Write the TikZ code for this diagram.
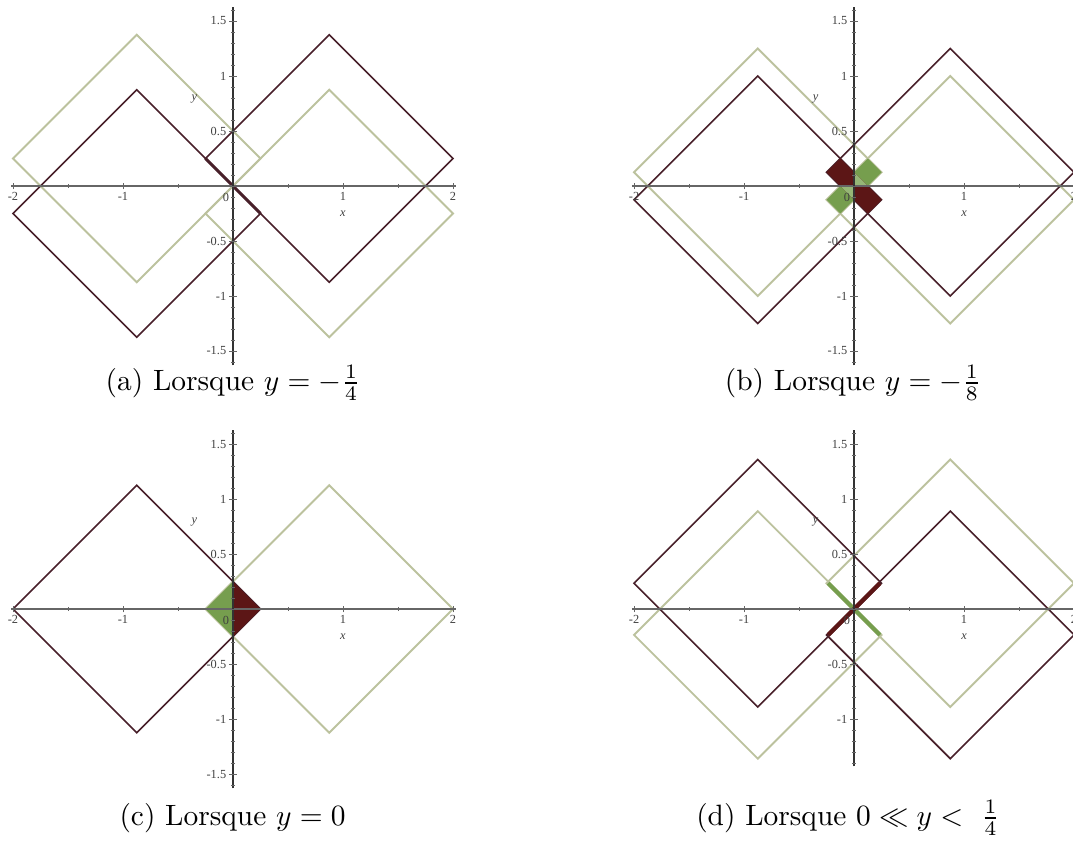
\documentclass[tikz,border=0pt]{standalone}
\usepackage{fontspec}
\newfontfamily\maplefont{Liberation Serif}
\usepackage{amsmath}
\usetikzlibrary{positioning}

\definecolor{lignesombre}{RGB}{72,32,42}
\definecolor{lignevert}{RGB}{188,194,158}
\definecolor{remplirrouge}{RGB}{92,22,22}
\definecolor{remplirvert}{RGB}{118,158,78}
\definecolor{vertmoyen}{RGB}{150,182,118}

\begin{document}
\begin{tikzpicture}[
    x=37.4pt, y=37.4pt,
    sombre/.style={draw=lignesombre, line width=0.55pt, line join=miter},
    vert/.style={draw=lignevert, line width=0.65pt, line join=miter},
    axe/.style={draw=black!60, line width=0.5pt},
    tick/.style={draw=black!60, line width=0.3pt},
    graduation/.style={font=\maplefont\fontsize{4.2}{5}\selectfont, inner sep=0.8pt, text=black!75},
    etiquette/.style={font=\maplefont\itshape\fontsize{4.2}{5}\selectfont, inner sep=0.5pt, text=black!75},
    legende/.style={font=\normalsize, inner sep=1pt}
]
\useasboundingbox (0,0) rectangle (9.7545,7.6818);

% (a) y = -1/4
\begin{scope}[shift={(2.118,5.991)}]
\foreach \cx/\cy in {-0.875/0.25, 0.875/-0.25}
  \draw[vert] (\cx,\cy) ++(-1.125,0) -- ++(1.125,1.125) -- ++(1.125,-1.125) -- ++(-1.125,-1.125) -- cycle;
\foreach \cx/\cy in {0.875/0.25, -0.875/-0.25}
  \draw[sombre] (\cx,\cy) ++(-1.125,0) -- ++(1.125,1.125) -- ++(1.125,-1.125) -- ++(-1.125,-1.125) -- cycle;
\draw[sombre, line width=1pt] (-0.25,0.25) -- (0.25,-0.25);
\end{scope}

% (b) y = -1/8
\begin{scope}[shift={(7.764,5.991)}]
\foreach \cx/\cy in {-0.875/0.125, 0.875/-0.125}
  \draw[vert] (\cx,\cy) ++(-1.125,0) -- ++(1.125,1.125) -- ++(1.125,-1.125) -- ++(-1.125,-1.125) -- cycle;
\foreach \cx/\cy in {0.875/0.125, -0.875/-0.125}
  \draw[sombre] (\cx,\cy) ++(-1.125,0) -- ++(1.125,1.125) -- ++(1.125,-1.125) -- ++(-1.125,-1.125) -- cycle;
\fill[remplirvert] (-0.25,-0.125) -- (-0.125,-0.25) -- (0.25,0.125) -- (0.125,0.25) -- cycle;
\fill[remplirrouge] (-0.25,0.125) -- (-0.125,0.25) -- (0.25,-0.125) -- (0.125,-0.25) -- cycle;
\fill[vertmoyen] (0,0) -- (0.125,0) -- (0,0.125) -- cycle;
\fill[vertmoyen] (0,0) -- (-0.125,0) -- (0,-0.125) -- cycle;
\end{scope}

% (c) y = 0
\begin{scope}[shift={(2.118,2.145)}]
\draw[vert] (-0.25,0) -- (0.875,1.125) -- (2,0) -- (0.875,-1.125) -- cycle;
\draw[sombre] (-2,0) -- (-0.875,1.125) -- (0.25,0) -- (-0.875,-1.125) -- cycle;
\fill[remplirvert] (0,0.25) -- (-0.25,0) -- (0,-0.25) -- cycle;
\fill[remplirrouge] (0,0.25) -- (0.25,0) -- (0,-0.25) -- cycle;
\end{scope}

% (d) 0 << y < 1/4
\begin{scope}[shift={(7.764,2.145)}]
\foreach \cx/\cy in {-0.875/-0.235, 0.875/0.235}
  \draw[vert] (\cx,\cy) ++(-1.125,0) -- ++(1.125,1.125) -- ++(1.125,-1.125) -- ++(-1.125,-1.125) -- cycle;
\foreach \cx/\cy in {-0.875/0.235, 0.875/-0.235}
  \draw[sombre] (\cx,\cy) ++(-1.125,0) -- ++(1.125,1.125) -- ++(1.125,-1.125) -- ++(-1.125,-1.125) -- cycle;
\draw[draw=remplirvert, line width=1.4pt] (-0.235,0.235) -- (0.235,-0.235);
\draw[draw=remplirrouge, line width=1.4pt] (-0.235,-0.235) -- (0.235,0.235);
\end{scope}

% axes of the four plots
\foreach \ox/\oy/\ybas [count=\i] in {2.118/5.991/-17, 7.764/5.991/-17, 2.118/2.145/-17, 7.764/2.145/-15} {
  \begin{scope}[shift={(\ox,\oy)}]
    \draw[axe] (-2.02,0) -- (2.03,0);
    \draw[axe, draw=black!80] (0,{\ybas/10+0.07}) -- (0,1.63);
    \foreach \t in {-16,...,16} {\ifnum\t>\ybas \draw[tick] (-0.015,\t/10) -- (0.015,\t/10);\fi}
    \foreach \t in {-1.5,-0.5,0.5,1.5} \draw[tick] (\t,-0.015) -- (\t,0.015);
    \foreach \t [count=\k] in {-2,-1,1,2} {
      \draw[tick] (\t,-0.03) -- (\t,0.03);
      \node[graduation, anchor=north] (gx\i\k) at (\t,-0.03) {\t};
    }
    \foreach \t/\lab [count=\k] in {1.5/1.5, 1/1, 0.5/0.5, -0.5/-0.5, -1/-1} {
      \draw[tick] (-0.035,\t) -- (0.035,\t);
      \node[graduation, anchor=east] (gy\i\k) at (-0.035,\t) {\lab};
    }
    \ifnum\ybas<-15
      \draw[tick] (-0.035,-1.5) -- (0.035,-1.5);
      \node[graduation, anchor=east] (gyb\i) at (-0.035,-1.5) {-1.5};
    \fi
    \node[graduation, anchor=north east] (zero\i) at (-0.01,-0.04) {0};
    \node[etiquette] (xlab\i) at (1,-0.25) {x};
    \node[etiquette] (ylab\i) at (-0.35,0.79) {y};
  \end{scope}
}

% captions
\node[legende] (capa) at (2.118,4.2) {(a) Lorsque $y=-\frac{1}{4}$};
\node[legende] (capb) at (7.755,4.2) {(b) Lorsque $y=-\frac{1}{8}$};
\node[legende] (capc) at (2.114,0.245) {(c) Lorsque $y=0$};
\node[legende] (capd) at (7.71,0.245) {(d) Lorsque $0 \ll y <\ \frac{1}{4}$};

\end{tikzpicture}
\end{document}
